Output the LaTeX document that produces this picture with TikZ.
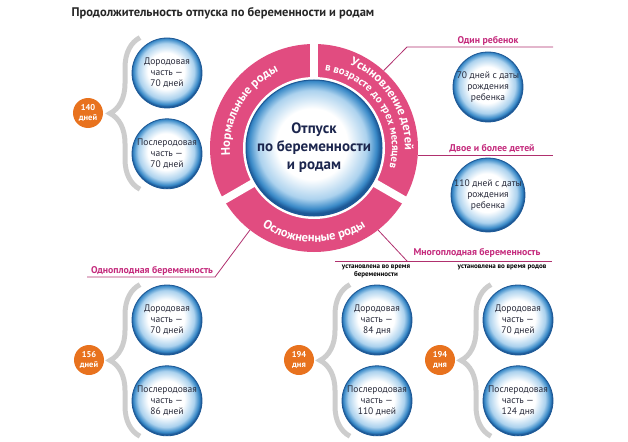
\documentclass[tikz,border=0pt]{standalone}
\usepackage{fontspec}
\setmainfont{PT Sans}
\usepackage{xcolor}
\usetikzlibrary{positioning, calc, decorations.text, decorations.pathreplacing}

\definecolor{ringpink}{RGB}{225,76,128}
\definecolor{tagpink}{RGB}{196,42,124}
\definecolor{linepink}{RGB}{176,48,110}
\definecolor{sumorange}{RGB}{232,114,30}
\definecolor{bracegray}{RGB}{205,205,205}
\definecolor{bubbledark}{RGB}{28,88,150}
\definecolor{bubbleblue}{RGB}{58,138,200}
\definecolor{bubblelight}{RGB}{172,210,238}
\definecolor{navytext}{RGB}{28,38,78}
\definecolor{bodytext}{RGB}{40,42,58}

\pgfdeclareradialshading{bubble}{\pgfpoint{-1bp}{2bp}}{color(0bp)=(white); color(13bp)=(white); color(20bp)=(bubblelight); color(23.5bp)=(bubbleblue); color(25bp)=(bubbledark); color(50bp)=(bubbledark)}

\tikzset{
  part/.style={circle, minimum size=70pt, inner sep=0pt, shading=bubble, draw=bubbledark, line width=0.8pt, align=center, text=bodytext, font=\fontsize{9.5}{11}\selectfont},
  total/.style={circle, fill=sumorange, minimum size=30pt, inner sep=0pt, align=center, text=white, font=\bfseries\fontsize{8.5}{9.5}\selectfont},
  tag/.style={text=tagpink, font=\bfseries\fontsize{9.8}{11}\selectfont},
  subtag/.style={align=center, text=black, font=\bfseries\fontsize{7}{8}\selectfont},
  tagline/.style={draw=linepink, line width=0.8pt},
  curly/.style={draw=bracegray, line width=5pt, decorate, decoration={brace, amplitude=30pt}}
}

\begin{document}
\begin{tikzpicture}[x=1pt, y=-1pt]
\useasboundingbox (0,0) rectangle (628,441);

% Title
\node[anchor=west, text=black!85, font=\bfseries\fontsize{12.5}{14}\selectfont] (title) at (68,13) {Продолжительность отпуска по беременности и родам};

% Ring and core
\node[circle, fill=ringpink, minimum size=208pt, inner sep=0pt] (ring) at (314,148) {};
\foreach \ang in {90,210,330}
  \draw[white, line width=8pt] (ring.center) -- ($(ring.center)!1.1!(ring.\ang)$);
\fill[white] (ring.center) circle (71pt);
\node[circle, minimum size=136pt, inner sep=0pt, shading=bubble, draw=bubbledark, line width=1pt, align=center, text=navytext, font=\bfseries\fontsize{15}{18}\selectfont] (core) at (ring.center) {Отпуск\\по беременности\\и родам};

% Ring texts
\path[decorate, decoration={text along path, text align=center, text={|\bfseries\fontsize{12.5}{14}\selectfont\color{white}|Нормальные роды}}] ($(ring.center)+(205:84pt)$) arc[start angle=205, end angle=95, radius=84pt];
\path[decorate, decoration={text along path, text align=left, text={|\bfseries\fontsize{12.5}{14}\selectfont\color{white}|Усыновление детей}}] ($(ring.center)+(67:91pt)$) arc[start angle=67, end angle=-30, radius=91pt];
\path[decorate, decoration={text along path, text align=left, text={|\bfseries\fontsize{10.8}{12}\selectfont\color{white}|в возрасте до трех месяцев}}] ($(ring.center)+(82:78pt)$) arc[start angle=82, end angle=-33, radius=78pt];
\path[decorate, decoration={text along path, text align=center, text={|\bfseries\fontsize{12.5}{14}\selectfont\color{white}|Осложненные роды}}] ($(ring.center)+(225:94pt)$) arc[start angle=225, end angle=315, radius=94pt];

% Normal birth
\node[part] (pre1) at (167,73) {Дородовая\\часть —\\70 дней};
\node[part, below=10pt of pre1] (post1) {Послеродовая\\часть —\\70 дней};
\node[total] (sum1) at (88,113) {140\\дней};
\draw[curly] ([xshift=-27pt]post1.south) -- ([xshift=-27pt]pre1.north);

% Adoption
\node[tag] (one) at (488,41) {Один ребенок};
\coordinate (k1) at (407,47);
\coordinate (e1) at (553,47);
\draw[tagline] (ring.48) -- (k1) -- (e1);
\node[part] (child1) at (488,87) {70 дней с даты\\рождения\\ребенка};

\node[tag] (two) at (492,149) {Двое и более детей};
\coordinate (e2) at (553,155);
\draw[tagline] (ring.-4) -- (ring.-4 -| e2);
\node[part] (child2) at (488,195) {110 дней с даты\\рождения\\ребенка};

% Complicated birth: single
\node[tag] (single) at (152,271) {Одноплодная беременность};
\coordinate (k3) at (215,277);
\coordinate (e3) at (87,277);
\draw[tagline] (ring.232) -- (k3) -- (e3);
\node[part] (pre2) at (167,320) {Дородовая\\часть —\\70 дней};
\node[part, below=10pt of pre2] (post2) {Послеродовая\\часть —\\86 дней};
\node[total] (sum2) at (89,360) {156\\дней};
\draw[curly] ([xshift=-27pt]post2.south) -- ([xshift=-27pt]pre2.north);

% Complicated birth: multiple
\node[tag] (multi) at (477,253) {Многоплодная беременность};
\coordinate (k4) at (407,261);
\coordinate (s4) at (335,261);
\coordinate (e4) at (552,261);
\draw[tagline] (ring.-52) -- (k4);
\draw[tagline] (s4) -- (e4);
\node[subtag] (during) at (376,271) {установлена во время\\беременности};
\node[subtag] (atbirth) at (502,267) {установлена во время родов};

\node[part] (pre3) at (377,320) {Дородовая\\часть —\\84 дня};
\node[part, below=10pt of pre3] (post3) {Послеродовая\\часть —\\110 дней};
\node[total] (sum3) at (299,360) {194\\дня};
\draw[curly] ([xshift=-27pt]post3.south) -- ([xshift=-27pt]pre3.north);

\node[part] (pre4) at (518,320) {Дородовая\\часть —\\70 дней};
\node[part, below=10pt of pre4] (post4) {Послеродовая\\часть —\\124 дня};
\node[total] (sum4) at (440,360) {194\\дня};
\draw[curly] ([xshift=-27pt]post4.south) -- ([xshift=-27pt]pre4.north);
\end{tikzpicture}
\end{document}
